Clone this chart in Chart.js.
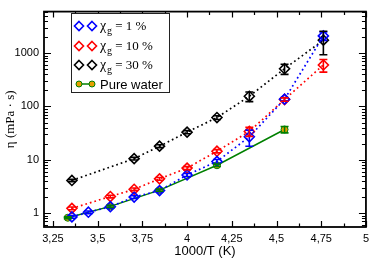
<!DOCTYPE html>
<html>
<head>
<meta charset="utf-8">
<script src="https://cdn.jsdelivr.net/npm/chart.js@4.4.1/dist/chart.umd.min.js"></script>
<style>
  html, body { margin: 0; padding: 0; background: #fff; }
  canvas { display: block; }
</style>
</head>
<body>
<canvas id="myChart" width="374" height="259"></canvas>
<script>
// data (x = 1000/T, y = viscosity in mPa.s)
const xBlue = [3.356, 3.448, 3.571, 3.704, 3.846, 4.0, 4.167, 4.348, 4.545, 4.762];
const yBlue = [0.85, 1.04, 1.32, 2.0, 2.65, 5.2, 9.3, 27, 137, 2100];
const eBlue = [0.05, 0.06, 0.08, 0.12, 0.16, 0.35, 0.8, 9, 10, 380];

const xRed = [3.356, 3.571, 3.704, 3.846, 4.0, 4.167, 4.348, 4.545, 4.762];
const yRed = [1.23, 2.05, 2.8, 4.4, 7.0, 14.5, 34, 135, 600];
const eRed = [0.07, 0.12, 0.16, 0.25, 0.45, 1.0, 6.5, 10, 160];

const xBlack = [3.356, 3.704, 3.846, 4.0, 4.167, 4.348, 4.545, 4.762];
const yBlack = [4.1, 10.5, 18, 33, 62, 155, 510, 1750];
const eBlack = [0.2, 0.6, 1.1, 2.2, 5, 32, 110, 820];

const xWater = [3.333, 3.571, 3.846, 4.167, 4.545];
const yWater = [0.82, 1.34, 2.7, 7.9, 37];
const eWater = [0.03, 0.06, 0.12, 0.4, 5];

const xTicks = [3.25, 3.5, 3.75, 4, 4.25, 4.5, 4.75, 5];
const yTicks = [1, 10, 100, 1000];

const legendItems = [
    { sub: true, text: ' = 1 %', color: '#0000ff' },
    { sub: true, text: ' = 10 %', color: '#ff0000' },
    { sub: true, text: ' = 30 %', color: '#000000' },
    { sub: false, text: 'Pure water', color: '#008000' }
];

const pts = (xs, ys) => xs.map((x, i) => ({ x: x, y: ys[i] }));

const dotted = (label, xs, ys, errs, color) => ({
    label: label,
    data: pts(xs, ys),
    errors: errs,
    showLine: true,
    borderColor: color,
    backgroundColor: 'rgba(0,0,0,0)',
    borderWidth: 1.7,
    borderDash: [1.7, 3],
    pointStyle: 'rectRot',
    pointRadius: 5,
    pointBorderWidth: 1.6,
    pointBorderColor: color,
    pointBackgroundColor: 'rgba(0,0,0,0)'
});

const frameTicks = {
    id: 'frameTicks',
    afterDraw(chart) {
        const ctx = chart.ctx;
        const a = chart.chartArea;
        const xs = chart.scales.x, ys = chart.scales.y;
        ctx.save();
        ctx.strokeStyle = '#000';
        ctx.lineWidth = 1.2;
        // x ticks every 0.125, inward on top and bottom
        for (let v = 3.25; v <= 5.0001; v += 0.125) {
            const px = Math.round(xs.getPixelForValue(v)) + 0.5;
            const major = Math.abs(v * 4 - Math.round(v * 4)) < 1e-6;
            const len = major ? 6 : 3.5;
            ctx.beginPath();
            ctx.moveTo(px, a.bottom); ctx.lineTo(px, a.bottom - len);
            ctx.moveTo(px, a.top); ctx.lineTo(px, a.top + len);
            ctx.stroke();
        }
        // y log ticks
        for (let d = 0.1; d <= 1000; d *= 10) {
            for (let m = 1; m <= 9; m++) {
                const v = d * m;
                if (v < ys.min || v > ys.max) continue;
                const py = Math.round(ys.getPixelForValue(v)) + 0.5;
                const len = m === 1 ? 7 : 4;
                ctx.beginPath();
                ctx.moveTo(a.left, py); ctx.lineTo(a.left + len, py);
                ctx.moveTo(a.right, py); ctx.lineTo(a.right - len, py);
                ctx.stroke();
            }
        }
        ctx.lineWidth = 1.8;
        ctx.strokeRect(a.left, a.top, a.right - a.left, a.bottom - a.top);

        // axis titles
        ctx.fillStyle = '#000';
        ctx.font = '13px "Liberation Sans", Arial, sans-serif';
        ctx.textAlign = 'center';
        ctx.textBaseline = 'alphabetic';
        ctx.fillText('1000/T (K)', (a.left + a.right) / 2, 255);
        ctx.translate(14, (a.top + a.bottom) / 2);
        ctx.rotate(-Math.PI / 2);
        ctx.font = '13px "Liberation Serif", "Times New Roman", serif';
        ctx.fillText('\u03b7 (mPa \u00b7 s)', 0, 0);
        ctx.restore();
    }
};

const errorBars = {
    id: 'errorBars',
    afterDatasetsDraw(chart) {
        const ctx = chart.ctx;
        const ys = chart.scales.y;
        ctx.save();
        chart.data.datasets.forEach((ds, i) => {
            const meta = chart.getDatasetMeta(i);
            ctx.strokeStyle = ds.borderColor;
            ctx.lineWidth = 1.6;
            meta.data.forEach((el, j) => {
                const e = ds.errors[j];
                const v = ds.data[j].y;
                const top = ys.getPixelForValue(v + e);
                const bot = ys.getPixelForValue(Math.max(v - e, ys.min));
                ctx.beginPath();
                ctx.moveTo(el.x, top); ctx.lineTo(el.x, bot);
                ctx.moveTo(el.x - 4, top); ctx.lineTo(el.x + 4, top);
                ctx.moveTo(el.x - 4, bot); ctx.lineTo(el.x + 4, bot);
                ctx.stroke();
            });
        });
        ctx.restore();
    }
};

const legendBox = {
    id: 'legendBox',
    afterDraw(chart) {
        const ctx = chart.ctx;
        ctx.save();
        ctx.fillStyle = '#fff';
        ctx.fillRect(71.5, 13.5, 98, 79);
        ctx.strokeStyle = '#222';
        ctx.lineWidth = 1;
        ctx.strokeRect(71.5, 13.5, 98, 79);
        const rowY = [26, 46, 65, 84];
        legendItems.forEach((it, k) => {
            const y = rowY[k];
            ctx.strokeStyle = it.color;
            ctx.lineWidth = 1.6;
            if (it.sub) {
                [79, 92].forEach(cx => {
                    ctx.beginPath();
                    ctx.moveTo(cx, y - 4.5); ctx.lineTo(cx + 4.5, y);
                    ctx.lineTo(cx, y + 4.5); ctx.lineTo(cx - 4.5, y);
                    ctx.closePath();
                    ctx.stroke();
                });
                ctx.fillStyle = '#000';
                ctx.textBaseline = 'alphabetic';
                ctx.textAlign = 'left';
                ctx.font = '14px "Liberation Serif", "Times New Roman", serif';
                ctx.fillText('\u03c7', 100, y + 4);
                ctx.font = '10px "Liberation Serif", "Times New Roman", serif';
                ctx.fillText('g', 107, y + 8);
                ctx.font = '13px "Liberation Serif", "Times New Roman", serif';
                ctx.fillText(it.text, 112, y + 4);
            } else {
                ctx.lineWidth = 1.5;
                ctx.beginPath();
                ctx.moveTo(79, y); ctx.lineTo(92, y);
                ctx.stroke();
                [79, 92].forEach(cx => {
                    ctx.beginPath();
                    ctx.arc(cx, y, 3, 0, Math.PI * 2);
                    ctx.fillStyle = '#e69f00';
                    ctx.fill();
                    ctx.lineWidth = 1;
                    ctx.stroke();
                });
                ctx.fillStyle = '#000';
                ctx.textBaseline = 'alphabetic';
                ctx.textAlign = 'left';
                ctx.font = '13px "Liberation Sans", Arial, sans-serif';
                ctx.fillText(it.text, 100, y + 5);
            }
        });
        ctx.restore();
    }
};

window.onload = () => {
    const ctx = document.getElementById('myChart');

    const chart = new Chart(ctx, {
        type: 'scatter',
        data: {
            datasets: [
                dotted('\u03c7g = 1 %', xBlue, yBlue, eBlue, '#0000ff'),
                dotted('\u03c7g = 10 %', xRed, yRed, eRed, '#ff0000'),
                dotted('\u03c7g = 30 %', xBlack, yBlack, eBlack, '#000000'),
                {
                    label: 'Pure water',
                    data: pts(xWater, yWater),
                    errors: eWater,
                    showLine: true,
                    borderColor: '#008000',
                    borderWidth: 1.5,
                    pointStyle: 'circle',
                    pointRadius: 3.5,
                    pointBorderWidth: 1,
                    pointBorderColor: '#008000',
                    pointBackgroundColor: '#e69f00'
                }
            ]
        },
        options: {
            responsive: false,
            animation: false,
            layout: { padding: { top: 1, right: 3, left: 0, bottom: 0 } },
            plugins: {
                legend: { display: false },
                tooltip: { enabled: false }
            },
            scales: {
                x: {
                    type: 'linear',
                    min: 3.2,
                    max: 5,
                    border: { display: false },
                    grid: { display: false, drawTicks: false },
                    afterFit: (s) => { s.height = 32; },
                    afterBuildTicks: (s) => { s.ticks = xTicks.map(v => ({ value: v })); },
                    ticks: {
                        autoSkip: false,
                        maxRotation: 0,
                        padding: 5,
                        color: '#000',
                        font: { family: '"Liberation Sans", Arial, sans-serif', size: 11 },
                        callback: (v) => String(v).replace('.', ',')
                    }
                },
                y: {
                    type: 'logarithmic',
                    min: 0.55,
                    max: 6000,
                    border: { display: false },
                    grid: { display: false, drawTicks: false },
                    afterFit: (s) => { s.width = 44; },
                    afterBuildTicks: (s) => { s.ticks = yTicks.map(v => ({ value: v })); },
                    ticks: {
                        autoSkip: false,
                        padding: 5,
                        color: '#000',
                        font: { family: '"Liberation Sans", Arial, sans-serif', size: 11 },
                        callback: (v) => String(v)
                    }
                }
            }
        },
        plugins: [errorBars, frameTicks, legendBox]
    });
}
</script>
</body>
</html>
